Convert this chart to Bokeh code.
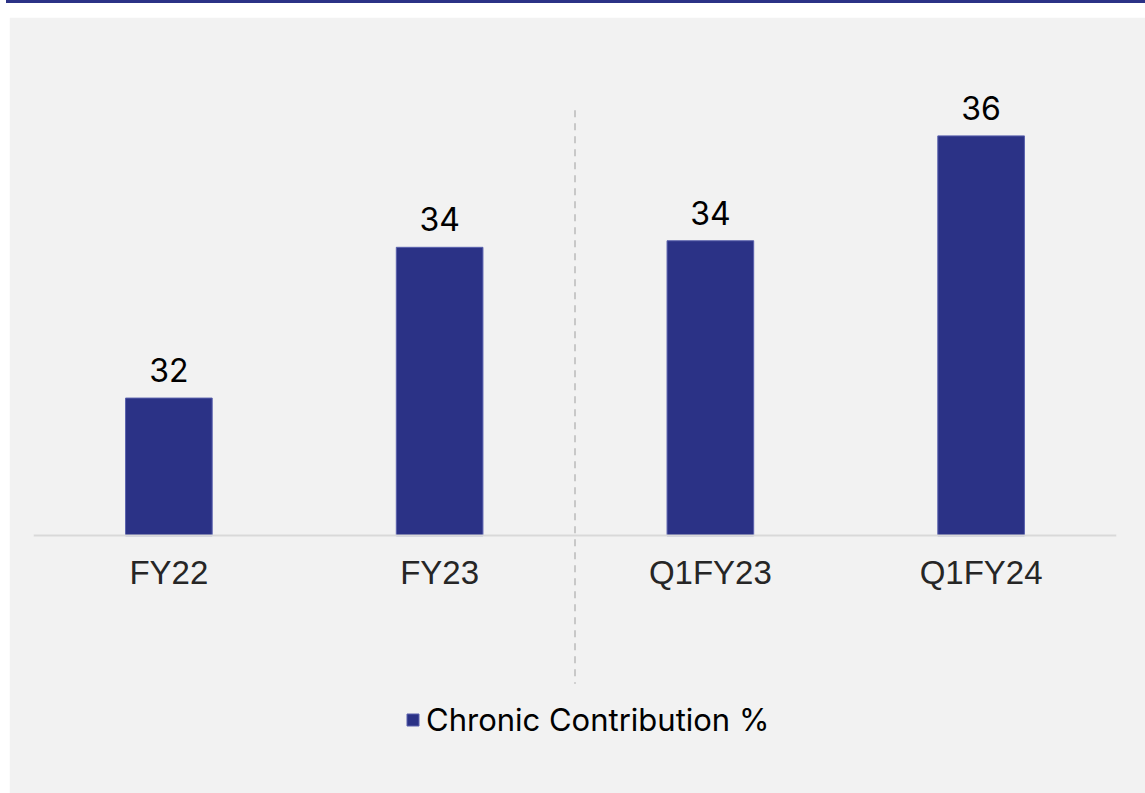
from bokeh.plotting import figure
from bokeh.models import ColumnDataSource, LabelSet, Legend, LegendItem, Range1d, FactorRange, Div
from bokeh.layouts import column
from bokeh.transform import dodge
from bokeh.core.properties import value
from bokeh.embed import file_html
from bokeh.resources import INLINE

# ---- data ----
categories = ["FY22", "FY23", "Q1FY23", "Q1FY24"]
chronic_contribution = [32.1, 34.4, 34.5, 36.1]
value_labels = ["32", "34", "34", "36"]
series_name = "Chronic Contribution %"

BAR_COLOR = "#2b3286"
BG = "#f2f2f2"
FONT = "Inter"

source = ColumnDataSource(dict(cat=categories, val=chronic_contribution, lab=value_labels))

y_start, y_end = 26.22, 37.25
p = figure(
    x_range=FactorRange(*categories),
    y_range=Range1d(y_start, y_end),
    width=1136, height=776,
    output_backend="svg", toolbar_location=None,
    min_border_left=24, min_border_right=29,
    min_border_top=43, min_border_bottom=10,
    background_fill_color=BG, border_fill_color=BG,
)
p.margin = (14, 0, 0, 9)
p.outline_line_color = BG
p.outline_line_width = 3
p.grid.visible = False
p.yaxis.visible = False

bars = p.vbar(x="cat", top="val", bottom=30, width=0.32, source=source,
              fill_color=BAR_COLOR, line_color="#5a61ad", line_width=1)

# x axis at the baseline
xa = p.xaxis[0]
xa.fixed_location = 30
xa.axis_line_color = "#d9d9d9"
xa.axis_line_width = 2
xa.major_tick_line_color = None
xa.minor_tick_line_color = None
xa.major_tick_in = 0
xa.major_tick_out = 0
xa.major_label_text_font = "Liberation Sans"
xa.major_label_text_font_size = "33px"
xa.major_label_text_color = "#262626"
xa.major_label_standoff = 18

# divider between annual and quarterly groups
div_src = ColumnDataSource(dict(x=["FY23"], y0=[36.49], y1=[27.74]))
p.segment(x0=dodge("x", 0.5, range=p.x_range), x1=dodge("x", 0.5, range=p.x_range),
          y0="y0", y1="y1", source=div_src,
          line_color="#c8c8c8", line_width=2, line_dash="7 6")

labels = LabelSet(x="cat", y="val", text="lab", source=source,
                  text_align="center", text_baseline="alphabetic", y_offset=16,
                  text_font=value(FONT), text_font_size=value("32px"),
                  text_color=value("#000000"))
p.add_layout(labels)

legend = Legend(items=[LegendItem(label=series_name, renderers=[bars])],
                location=(372, 45), orientation="horizontal",
                glyph_width=15, glyph_height=15, label_standoff=6,
                label_text_font=FONT, label_text_font_size="31px",
                label_text_color="#000000",
                padding=0, margin=0, spacing=0,
                background_fill_alpha=0, border_line_color=None)
p.add_layout(legend, "center")

topline = Div(width=1139, height=3, margin=(0, 0, 0, 6),
              styles={"background-color": "#2b3286"})

layout = column(topline, p, spacing=0)
open("out.html", "w").write(file_html(layout, INLINE))
